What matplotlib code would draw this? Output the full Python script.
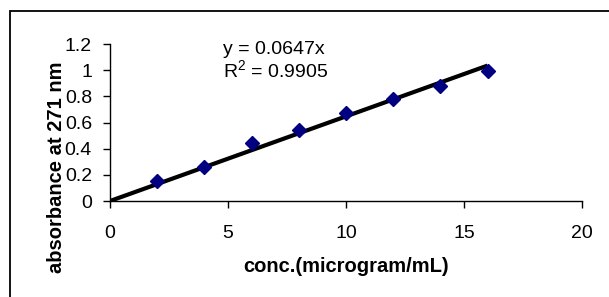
import matplotlib
matplotlib.use('Agg')
import matplotlib.pyplot as plt
from matplotlib.patches import Rectangle

plt.rcParams['font.family'] = ['Liberation Sans', 'DejaVu Sans']

# Data
conc = [2, 4, 6, 8, 10, 12, 14, 16]
absorbance = [0.15, 0.26, 0.44, 0.54, 0.67, 0.78, 0.88, 0.99]
slope = 0.0647
r2 = 0.9905
fit_x = [0, 16]
x_ticks = [0, 5, 10, 15, 20]
y_ticks = [0, 0.2, 0.4, 0.6, 0.8, 1, 1.2]
y_tick_labels = ['0', '0.2', '0.4', '0.6', '0.8', '1', '1.2']

fig = plt.figure(figsize=(6.09, 2.97), dpi=100)
ax = fig.add_axes([0.1806, 0.3232, 0.775, 0.5286])

# Trendline
ax.plot(fit_x, [slope * v for v in fit_x], color='black', lw=3, zorder=2,
        solid_capstyle='butt')
# Points
ax.plot(conc, absorbance, linestyle='none', marker='D', markersize=7,
        color='#000080', zorder=3)

ax.set_xlim(0, 20)
ax.set_ylim(0, 1.2)
ax.set_xticks(x_ticks)
ax.set_yticks(y_ticks)
ax.set_yticklabels(y_tick_labels)
ax.tick_params(axis='both', labelsize=14, direction='out', length=5, width=1, color='black')
ax.tick_params(axis='x', pad=12)
ax.tick_params(axis='y', pad=8)

for s in ['top', 'right']:
    ax.spines[s].set_visible(False)
for s in ['left', 'bottom']:
    ax.spines[s].set_linewidth(1)

ax.set_xlabel('conc.(microgram/mL)', fontsize=14.5, fontweight='bold', labelpad=11)
ax.set_ylabel('absorbance at 271 nm', fontsize=14.5, fontweight='bold')
ax.yaxis.set_label_coords(-0.093, 0.217)

ax.text(0.239, 0.936, 'y = %.4fx' % slope, transform=ax.transAxes, fontsize=14,
        va='baseline', ha='left')
ax.text(0.239, 0.79, '$\\mathregular{R^2}$ = %.4f' % r2, transform=ax.transAxes,
        fontsize=14, va='baseline', ha='left')

# Chart area border (extends beyond the image on the right and bottom)
fig.add_artist(Rectangle((10 / 609, -0.1), 1.2, 1 - 11 / 297 + 0.1,
                         transform=fig.transFigure, fill=False,
                         edgecolor='black', lw=1.3))

fig.savefig('out.png', dpi=100)
